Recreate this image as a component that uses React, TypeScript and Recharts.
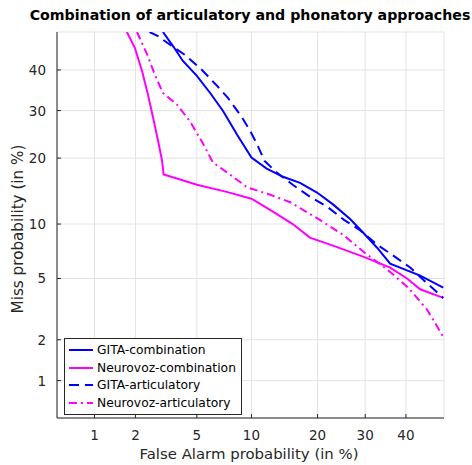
import React from "react";
import { LineChart, Line, XAxis, YAxis, CartesianGrid, Legend } from "recharts";

// DET curves, values in % (false alarm, miss)
const tickPercents = [1, 2, 5, 10, 20, 30, 40];
const axisLimits = [0.5, 50];

const gitaCombFa = [3.07, 3.6, 4.1, 5.0, 5.98, 7.07, 8.41, 10.0, 11.9, 14.2, 16.9, 19.9, 23.0, 26.6, 29.5, 32.8, 36.0, 43.7, 49.8];
const gitaCombMiss = [50, 46, 42.4, 38.5, 34.2, 29.9, 24.7, 20.1, 18.1, 16.7, 15.7, 14.2, 12.5, 10.6, 9.05, 7.5, 6.1, 5.2, 4.4];

const neuroCombFa = [1.74, 1.98, 2.22, 2.44, 2.64, 2.85, 3.03, 3.1, 4.0, 5.0, 7.4, 10.0, 12.3, 15.7, 18.6, 23.0, 29.5, 36.0, 40.3, 43.7, 49.8];
const neuroCombMiss = [50, 45.8, 39.8, 33.8, 28.4, 23.4, 19.5, 17.1, 16.2, 15.4, 14.3, 13.3, 11.8, 10.0, 8.5, 7.7, 6.7, 5.8, 5.0, 4.3, 3.8];

const gitaArtFa = [2.5, 2.85, 3.41, 4.24, 5.36, 6.54, 7.52, 8.95, 9.84, 10.7, 11.6, 13.3, 15.7, 18.6, 22.0, 25.3, 28.8, 32.8, 36.7, 41.1, 45.0, 49.8];
const gitaArtMiss = [50, 48.9, 46.6, 43.9, 40.0, 36.0, 33.0, 28.4, 25.5, 22.6, 19.5, 17.4, 15.4, 13.6, 12.1, 10.5, 9.3, 7.8, 6.8, 5.8, 4.8, 3.8];

const neuroArtFa = [2.05, 2.4, 2.72, 3.07, 3.78, 4.55, 5.44, 6.2, 7.7, 9.5, 12.3, 15.3, 19.9, 25.1, 30.0, 35.5, 40.6, 45.5, 49.8];
const neuroArtMiss = [50, 44.2, 38.7, 34.2, 31.4, 27.5, 22.8, 19.2, 17.1, 15.0, 13.9, 12.8, 10.7, 8.8, 7.0, 5.6, 4.4, 3.2, 2.1];

// inverse normal CDF (Acklam)
function probit(p: number) {
  const a = [-39.69683028665376, 220.9460984245205, -275.9285104469687, 138.357751867269, -30.66479806614716, 2.506628277459239];
  const b = [-54.47609879822406, 161.5858368580409, -155.6989798598866, 66.80131188771972, -13.28068155288572];
  const c = [-0.007784894002430293, -0.3223964580411365, -2.400758277161838, -2.549732539343734, 4.374664141464968, 2.938163982698783];
  const d = [0.007784695709041462, 0.3224671290700398, 2.445134137142996, 3.754408661907416];
  const pl = 0.02425;
  if (p < pl) {
    const q = Math.sqrt(-2 * Math.log(p));
    return (((((c[0] * q + c[1]) * q + c[2]) * q + c[3]) * q + c[4]) * q + c[5]) / ((((d[0] * q + d[1]) * q + d[2]) * q + d[3]) * q + 1);
  }
  if (p > 1 - pl) return -probit(1 - p);
  const q = p - 0.5;
  const r = q * q;
  return ((((((a[0] * r + a[1]) * r + a[2]) * r + a[3]) * r + a[4]) * r + a[5]) * q) / (((((b[0] * r + b[1]) * r + b[2]) * r + b[3]) * r + b[4]) * r + 1);
}

const toPoints = (fa: number[], miss: number[]) =>
  fa.map((f, i) => ({ x: probit(f / 100), y: probit(miss[i] / 100) }));

const series = [
  { name: "GITA-combination", data: toPoints(gitaCombFa, gitaCombMiss), color: "#0000ff", dash: undefined },
  { name: "Neurovoz-combination", data: toPoints(neuroCombFa, neuroCombMiss), color: "#ff00ff", dash: undefined },
  { name: "GITA-articulatory", data: toPoints(gitaArtFa, gitaArtMiss), color: "#0000ff", dash: "10 6" },
  { name: "Neurovoz-articulatory", data: toPoints(neuroArtFa, neuroArtMiss), color: "#ff00ff", dash: "8 4 2 4" }
];

const ticks = tickPercents.map((t) => probit(t / 100));
const domain = [probit(axisLimits[0] / 100), probit(axisLimits[1] / 100)];

const FONT = "'DejaVu Sans', sans-serif";
const TXT = "#262626";

const XTick = (props: any) => {
  const { x, y, index } = props;
  return (
    <g>
      <line x1={x} x2={x} y1={y} y2={y - 4} stroke={TXT} strokeWidth={1} />
      <text x={x} y={y + 22} textAnchor="middle" fontSize={13.5} fill={TXT} fontFamily={FONT}>
        {tickPercents[index]}
      </text>
    </g>
  );
};

const YTick = (props: any) => {
  const { x, y, index } = props;
  return (
    <g>
      <line x1={x} x2={x + 4} y1={y} y2={y} stroke={TXT} strokeWidth={1} />
      <text x={x - 11} y={y + 5} textAnchor="end" fontSize={13.5} fill={TXT} fontFamily={FONT}>
        {tickPercents[index]}
      </text>
    </g>
  );
};

const LegendBox = () => (
  <div
    style={{
      border: "1px solid #262626",
      background: "#fff",
      width: 176,
      padding: "2px 0",
      fontFamily: FONT,
      fontSize: 12.3,
      color: "#000"
    }}
  >
    {series.map((s) => (
      <div key={s.name} style={{ display: "flex", alignItems: "center", height: 17.8 }}>
        <svg width={32} height={10} style={{ flex: "none" }}>
          <line x1={4} x2={28} y1={5} y2={5} stroke={s.color} strokeWidth={2} strokeDasharray={s.dash} />
        </svg>
        <span>{s.name}</span>
      </div>
    ))}
  </div>
);

export default function App() {
  return (
    <div style={{ position: "absolute", left: 0, top: 0, width: 472, height: 465, background: "#fff" }}>
      <div
        style={{
          position: "absolute",
          left: 0,
          width: 500,
          top: 7,
          textAlign: "center",
          fontFamily: FONT,
          fontWeight: "bold",
          fontSize: 14.2,
          color: "#000",
          whiteSpace: "nowrap"
        }}
      >
        Combination of articulatory and phonatory approaches
      </div>
      <div
        style={{
          position: "absolute",
          left: 18,
          top: 229,
          transform: "translate(-50%, -50%) rotate(-90deg)",
          fontFamily: FONT,
          fontSize: 15.2,
          color: TXT,
          whiteSpace: "nowrap"
        }}
      >
        Miss probability (in %)
      </div>
      <div
        style={{
          position: "absolute",
          left: 249,
          top: 454,
          transform: "translate(-50%, -50%)",
          fontFamily: FONT,
          fontSize: 14.9,
          color: TXT,
          whiteSpace: "nowrap"
        }}
      >
        False Alarm probability (in %)
      </div>
      <LineChart width={472} height={465} margin={{ top: 32, right: 28, bottom: 0, left: 0 }} style={{ position: "absolute", left: 0, top: 0 }}>
        <CartesianGrid stroke="#e3e3e3" strokeWidth={1} />
        <XAxis
          type="number"
          dataKey="x"
          domain={domain}
          ticks={ticks}
          allowDataOverflow
          height={47}
          tickSize={0}
          tickMargin={0}
          tick={<XTick />}
          stroke={TXT}
          interval={0}
        />
        <YAxis
          type="number"
          dataKey="y"
          domain={domain}
          ticks={ticks}
          allowDataOverflow
          width={57}
          tickSize={0}
          tickMargin={0}
          tick={<YTick />}
          stroke={TXT}
          interval={0}
        />
        {series.map((s) => (
          <Line
            key={s.name}
            data={s.data}
            dataKey="y"
            name={s.name}
            type="linear"
            stroke={s.color}
            strokeWidth={2}
            strokeDasharray={s.dash}
            dot={false}
            isAnimationActive={false}
          />
        ))}
        <Legend
          layout="vertical"
          align="center"
          verticalAlign="middle"
          content={<LegendBox />}
          wrapperStyle={{ position: "absolute", left: 64, top: 338, width: "auto", height: "auto" }}
        />
      </LineChart>
    </div>
  );
}
